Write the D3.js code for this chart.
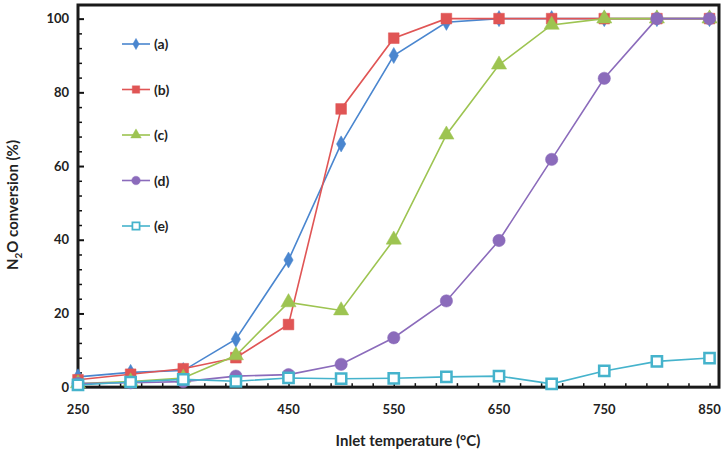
<!DOCTYPE html>
<html lang="en">
<head>
    <meta charset="UTF-8">
    <title>N2O conversion vs inlet temperature</title>
    <style>
        body { margin: 0; background: #fff; }
        #chart { width: 724px; height: 449px; }
        text { font-family: Lato, "Open Sans", sans-serif; font-weight: 700; fill: #222; }
    </style>
</head>
<body>
<div id="chart"></div>
<script src="https://d3js.org/d3.v7.min.js"></script>
<script>
    // temperatures (°C)
    const temps = [250, 300, 350, 400, 450, 500, 550, 600, 650, 700, 750, 800, 850];
    const xTicks = [250, 350, 450, 550, 650, 750, 850];
    const yTicks = [0, 20, 40, 60, 80, 100];

    // N2O conversion (%)
    const seriesA = [2.8, 4, 4.5, 13, 34.5, 66, 90, 99, 100, 100, 100, 100, 100];
    const seriesB = [2, 3.5, 5, 8, 17, 75.5, 94.7, 100, 100, 100, 100, 100, 100];
    const seriesC = [1, 1.5, 2.5, 8.6, 23, 20.8, 40, 68.5, 87.5, 98.3, 100, 100, 100];
    const seriesD = [1, 1.2, 1.5, 3, 3.4, 6.2, 13.4, 23.4, 39.8, 61.8, 83.8, 100, 100];
    const seriesE = [0.6, 1.4, 2.1, 1.6, 2.5, 2.3, 2.4, 2.8, 3, 0.9, 4.4, 7, 7.9];

    const labels = ["(a)", "(b)", "(c)", "(d)", "(e)"];
    const colors = ["#4a86cf", "#e05555", "#9dc451", "#8b6bbb", "#45b3cc"];
    const shapes = ["diamond", "square", "triangle", "circle", "open"];
    const allSeries = [seriesA, seriesB, seriesC, seriesD, seriesE];

    const W = 724, H = 449;
    const margin = { top: 5, right: 5, bottom: 60, left: 78 };

    const svg = d3.select("#chart").append("svg")
        .attr("width", W)
        .attr("height", H);

    const width = W - margin.left - margin.right,
        height = H - margin.top - margin.bottom;

    const x = d3.scaleLinear().domain([250, 859]).range([0, width]);
    const y = d3.scaleLinear().domain([-0.5, 103.7]).range([height, 0]);

    const g = svg.append("g").attr("transform", `translate(${margin.left},${margin.top})`);

    // minor ticks (inside)
    g.append("g")
        .attr("transform", `translate(0,${y(0)})`)
        .call(d3.axisTop(x).tickValues(d3.range(270, 860, 20)).tickSize(4).tickFormat(""))
        .call(a => a.select(".domain").remove())
        .selectAll("line").attr("stroke", "#111").attr("stroke-width", 1.5);

    g.append("g")
        .call(d3.axisRight(y).tickValues(d3.range(4, 100, 4).filter(v => v % 20 !== 0)).tickSize(4).tickFormat(""))
        .call(a => a.select(".domain").remove())
        .selectAll("line").attr("stroke", "#111").attr("stroke-width", 1.5);

    // major ticks
    g.append("g")
        .call(d3.axisRight(y).tickValues(yTicks).tickSize(6).tickFormat(""))
        .call(a => a.select(".domain").remove())
        .selectAll("line").attr("stroke", "#111").attr("stroke-width", 2);

    // tick labels
    g.selectAll(".ylab").data(yTicks).enter().append("text")
        .attr("x", -9)
        .attr("y", d => y(d) + 4.5)
        .attr("text-anchor", "end")
        .style("font-size", "13px")
        .text(d => d);

    g.selectAll(".xlab").data(xTicks).enter().append("text")
        .attr("x", d => x(d))
        .attr("y", y(0) + 27)
        .attr("text-anchor", "middle")
        .style("font-size", "13px")
        .text(d => d);

    // frame
    g.append("rect")
        .attr("x", 0).attr("y", 0)
        .attr("width", width).attr("height", y(0))
        .attr("fill", "none")
        .attr("stroke", "#1a1a1a")
        .attr("stroke-width", 3);

    // series
    const line = d3.line().x((d, i) => x(temps[i])).y(d => y(d));
    const sym = {
        diamond: d3.symbol().type(d3.symbolDiamond).size(75),
        square: d3.symbol().type(d3.symbolSquare).size(115),
        triangle: d3.symbol().type(d3.symbolTriangle).size(100),
        circle: d3.symbol().type(d3.symbolCircle).size(120),
        open: d3.symbol().type(d3.symbolSquare).size(105)
    };

    function drawMarker(sel, shape, color) {
        sel.attr("d", sym[shape]())
            .attr("fill", shape === "open" ? "#fff" : color)
            .attr("stroke", color)
            .attr("stroke-width", shape === "open" ? 2.5 : 0.5);
    }

    allSeries.forEach((vals, k) => {
        g.append("path")
            .datum(vals)
            .attr("fill", "none")
            .attr("stroke", colors[k])
            .attr("stroke-width", 1.6)
            .attr("d", line);

        g.selectAll(".m" + k).data(vals).enter().append("path")
            .attr("transform", (d, i) => `translate(${x(temps[i])},${y(d)})`)
            .call(drawMarker, shapes[k], colors[k]);
    });

    // legend
    const legend = g.append("g").attr("transform", "translate(44,39)");
    labels.forEach((lab, k) => {
        const row = legend.append("g").attr("transform", `translate(0,${k * 45.5})`);
        row.append("line")
            .attr("x1", 0).attr("x2", 28)
            .attr("stroke", colors[k]).attr("stroke-width", 1.6);
        row.append("path")
            .attr("transform", "translate(14,0) scale(0.7)")
            .call(drawMarker, shapes[k], colors[k]);
        row.append("text")
            .attr("x", 32).attr("y", 5)
            .style("font-size", "14px")
            .text(lab);
    });

    // axis titles
    svg.append("text")
        .attr("x", 408)
        .attr("y", 446)
        .attr("text-anchor", "middle")
        .style("font-size", "15px")
        .text("Inlet temperature (°C)");

    const yt = svg.append("text")
        .attr("transform", "translate(18,205) rotate(-90)")
        .attr("text-anchor", "middle")
        .style("font-size", "15px");
    yt.append("tspan").text("N");
    yt.append("tspan").attr("dy", 4).style("font-size", "10px").text("2");
    yt.append("tspan").attr("dy", -4).text("O conversion (%)");
</script>
</body>
</html>
